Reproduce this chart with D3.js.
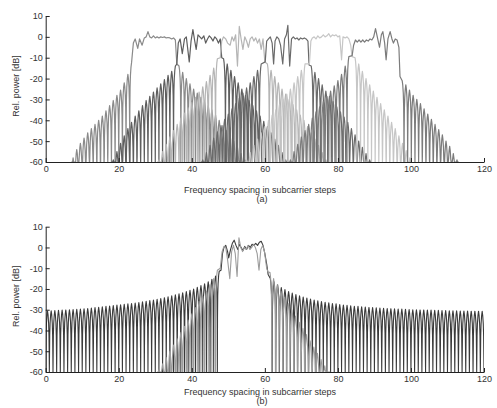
<!DOCTYPE html>
<html>
<head>
<meta charset="utf-8">
<script src="https://cdn.jsdelivr.net/npm/d3@7"></script>
<style>
body { margin: 0; background: #fff; }
text { font-family: "Liberation Sans", Arial, sans-serif; fill: #333; }
</style>
</head>
<body>
<div id="viz"></div>
<script>
// ---- data ----
var xTicks = [0, 20, 40, 60, 80, 100, 120];
var yTicks = [10, 0, -10, -20, -30, -40, -50, -60];

// panel (a): six sub-bands. sidelobe arrays: first null position, then peak levels (dB), one per subcarrier step
var a1Left = { start: 7, peaks: [-58, -54, -51, -48.5, -46, -44, -42, -40, -38, -35.5, -33, -30.5, -28, -25.5, -22, -18, -12.5] };
var a1Pass = [[24, -3], [24.5, -1], [25.2, -5.5], [25.7, -1], [26.4, -4], [27, -0.5], [27.5, 0], [28, 2.5], [28.5, 0], [29, -0.5], [29.5, 0.5], [30, -0.5], [30.5, 0], [31, -0.5], [31.5, 0], [32, -0.3], [32.5, 0], [33, -0.5], [33.5, -0.3], [34, -0.5], [34.5, -1], [35, -0.5], [35.5, -1.5], [35.9, -13]];
var a1Right = { start: 36, peaks: [-14, -17, -20, -22.5, -25, -27, -29, -31, -33, -35, -37.5, -40, -42.5, -45, -47.5, -50, -53, -56, -59] };

var a2Left = { start: 18, peaks: [-59, -55, -51, -47.5, -44, -41, -38, -35.5, -33, -30.5, -28.5, -26.5, -24.5, -22.5, -20.5, -18.5, -16.5, -14] };
var a2Pass = [[35.9, -13], [36.3, -3], [36.8, -1], [37.4, -8], [38, -1], [38.5, 0], [39.3, -12], [39.8, -2], [40.3, 3.5], [40.8, -2], [41.2, -6], [41.7, 1], [42.2, 0], [42.7, -1], [43.3, 0.5], [43.8, -3], [44.3, -1], [44.8, 0.5], [45.3, -0.5], [45.8, -2], [46.3, 0], [46.8, -1], [47.3, -3], [47.8, -1], [48.2, -10]];
var a2Right = { start: 48.2, peaks: [-10.5, -13, -16, -19, -22, -25, -28, -30.5, -33, -35.5, -38, -40.5, -43, -46, -49, -52, -55.5, -59] };

var a3Left = { start: 30.5, peaks: [-59, -55, -51.5, -48, -45, -42, -39, -36.5, -34, -31.5, -29, -26.5, -24, -21.5, -18.5, -15, -10.5] };
var a3Pass = [[47.8, -10], [48.2, -2], [48.7, 0], [49.3, -1], [49.8, -3], [50.5, -4], [51, 0], [51.5, -2], [52, 1], [52.5, -14], [53, 5], [53.5, -1], [54, -6], [54.5, 0], [55, -2], [55.5, -5], [56, -1], [56.5, 0], [57, -2], [57.5, -0.5], [58, -3], [58.5, -1], [59, -6], [59.5, -1], [60, -12]];
var a3Right = { start: 60.2, peaks: [-13, -16, -19, -22, -25, -27.5, -30, -32.5, -35, -37.5, -40, -43, -46, -49, -52, -55.5, -59] };

var a4Left = { start: 42.5, peaks: [-59, -55.5, -52, -48.5, -45.5, -42.5, -39.5, -37, -34.5, -32, -29.5, -27, -24.5, -22, -19, -16, -13] };
var a4Pass = [[60.1, -12], [60.5, -2], [61, -1], [61.5, 0], [62, -3], [62.4, -13], [62.8, -2], [63.3, 0], [63.8, -1], [64.3, -4], [64.9, -13], [65.4, -1], [65.9, 1], [66.3, 5.5], [66.8, -14], [67.3, -1], [67.8, 0], [68.3, -1], [68.8, -0.5], [69.3, -1.5], [69.8, -0.5], [70.3, -1], [70.8, -0.5], [71.3, -1], [71.8, -2], [72.1, -13.5]];
var a4Right = { start: 72.2, peaks: [-14, -17, -20, -23, -26, -28.5, -31, -33.5, -36, -38.5, -41, -44, -47, -50, -53, -56, -59] };

var a5Left = { start: 54.5, peaks: [-59, -55.5, -52, -49, -46, -43, -40, -37.5, -35, -32.5, -30, -27.5, -25, -22, -19, -16, -13] };
var a5Pass = [[72.2, -13], [72.6, -2], [73, -0.5], [73.5, 0], [74, -1], [74.5, 0.5], [75, -0.5], [75.5, 0], [76, 1], [76.5, 0], [77, 0.5], [77.5, 1.5], [78, 0], [78.5, 1], [79, 0.5], [79.5, 1], [80, 0], [80.5, 0.5], [81, -11], [81.4, 0], [82, -0.5], [82.5, 0], [83, -1], [83.5, -4], [83.9, -9.5]];
var a5Right = { start: 84.2, peaks: [-10, -13, -16.5, -20, -23, -26, -29, -32, -35, -38, -41, -44, -47.5, -51, -54.5, -58] };

var a6Left = { start: 66.5, peaks: [-59, -55, -51.5, -48, -45, -42, -39, -36, -33.5, -31, -28.5, -26, -23.5, -21, -18, -14, -9.5] };
var a6Pass = [[83.9, -9], [84.3, -4], [84.8, -1.5], [85.3, -2.5], [85.8, -1.5], [86.3, -2.5], [86.8, -1.5], [87.3, -2.5], [87.8, -1.5], [88.3, -2], [88.8, -1], [89.3, -1.5], [89.8, 0], [90.3, 4], [90.9, -1], [91.4, -5], [91.9, 1], [92.3, 2.5], [92.8, -3], [93.2, -11], [93.7, -1], [94.3, 2.5], [94.8, -1], [95.2, -3], [95.7, -1], [96.2, -1.5], [96.7, -5], [97, -19]];
var a6Right = { start: 97.1, peaks: [-21, -23, -25.5, -28, -30, -32, -34.5, -37, -39.5, -42, -44.5, -47, -50, -52.5, -56, -59] };

// panel (b): one sub-band, unfiltered (dark) and filtered (light)
var bDarkLeft = { start: 0, peaks: [
  -30.6, -30.5, -30.4, -30.3, -30.2, -30.1, -30, -29.9, -29.8, -29.7,
  -29.6, -29.4, -29.2, -29, -28.8, -28.6, -28.4, -28.2, -28, -27.8,
  -27.6, -27.4, -27.2, -27, -26.8, -26.5, -26.2, -25.9, -25.6, -25.3,
  -25, -24.6, -24.2, -23.8, -23.3, -22.8, -22.3, -21.8, -21.2, -20.6,
  -20, -19.2, -18.4, -17.5, -16.5, -15.3, -13.8, -11.5] };
var bDarkPass = [[48, -11], [48.4, -3], [48.8, 0], [49.3, 1], [49.8, -2], [50.1, -5], [50.6, -1], [51.1, 2], [51.6, 3.5], [52.1, 1], [52.6, -1], [53, 1.5], [53.5, 0], [54, -1.5], [54.5, 0.5], [55, -1], [55.5, 1], [56, 0], [56.5, 1.5], [57, 1], [57.5, 2], [58, 1], [58.5, 2.5], [59, 3], [59.5, 1], [60, -3], [60.5, -8], [60.9, -13]];
var bDarkRight = { start: 61, peaks: [
  -15, -16.5, -18, -19.3, -20.3, -21.2, -22, -22.7, -23.3, -23.9,
  -24.4, -24.9, -25.3, -25.7, -26.1, -26.4, -26.7, -27, -27.2, -27.5,
  -27.7, -27.9, -28.1, -28.3, -28.4, -28.6, -28.7, -28.9, -29, -29.1,
  -29.2, -29.3, -29.4, -29.5, -29.6, -29.7, -29.7, -29.8, -29.9, -30,
  -30, -30.1, -30.1, -30.2, -30.2, -30.3, -30.3, -30.4, -30.4, -30.5,
  -30.5, -30.5, -30.6, -30.6, -30.6, -30.7, -30.7, -30.7, -30.8] };

var bLightLeft = { start: 30.5, peaks: [-59, -56, -53, -50, -47, -44, -41, -38, -35, -32, -29, -26, -23.5, -21, -18, -15, -11] };
var bLightPass = [[47.8, -10], [48.3, -2], [48.8, 0.5], [49.3, 0], [49.8, -6], [50.4, -15], [50.9, -2], [51.4, 1], [51.9, -3], [52.4, -14], [52.9, 4.7], [53.4, 0], [53.9, -2], [54.4, 0], [54.9, -1], [55.4, 1], [55.9, -1], [56.4, 0], [56.9, 1.5], [57.4, 0], [57.9, -3], [58.4, -11], [58.9, -1], [59.4, 1], [59.9, -2], [60.5, -10], [60.9, -12]];
var bLightRight = { start: 60.9, peaks: [-12, -15, -18, -21, -24, -27, -30, -33, -36, -39, -42, -45, -48, -51, -54, -57, -60] };

// ---- drawing ----
var W = 497, H = 408;
var svg = d3.select("#viz").append("svg")
    .attr("width", W)
    .attr("height", H);
svg.append("rect").attr("width", W).attr("height", H).attr("fill", "#fff");

// shape of one sidelobe between two nulls (relative offset from the peak)
var lobeT = [0, 0.04, 0.1, 0.2, 0.35, 0.5, 0.65, 0.8, 0.9, 0.96, 1];
var lobeDrop = [80, 22, 12, 6, 2, 0, 2, 6, 12, 22, 80];

function lobePoints(side, trim) {
    var pts = [];
    side.peaks.forEach(function(p, i) {
        lobeT.forEach(function(t, j) {
            if (trim == "end" && i == side.peaks.length - 1 && j > 5) return;
            if (trim == "start" && i == 0 && j < 5) return;
            pts.push([side.start + i + t, p - lobeDrop[j]]);
        });
    });
    return pts;
}

function trace(left, pass, right) {
    return lobePoints(left, "end").concat(pass, lobePoints(right, "start"));
}

// labelY / letterY: baselines below the x axis
function panel(top, bottom, id, series, letter, labelY, letterY) {
    var x = d3.scaleLinear().domain([0, 120]).range([45.7, 484]);
    var y = d3.scaleLinear().domain([-60, 10]).range([bottom, top]).clamp(true);
    var g = svg.append("g");

    g.append("clipPath").attr("id", id)
        .append("rect")
        .attr("x", x(0)).attr("y", top - 5)
        .attr("width", x(120) - x(0)).attr("height", bottom - top + 5);

    var line = d3.line()
        .x(function(d) { return x(d[0]); })
        .y(function(d) { return y(d[1]); });

    g.append("g").attr("clip-path", "url(#" + id + ")")
        .selectAll("path")
        .data(series)
        .enter()
        .append("path")
        .attr("d", function(d) { return line(d.pts); })
        .attr("fill", "none")
        .attr("stroke", function(d) { return d.color; })
        .attr("stroke-width", function(d) { return d.w; })
        .attr("stroke-linejoin", "round");

    var ax = g.append("g")
        .attr("transform", "translate(0," + bottom + ")")
        .call(d3.axisBottom(x).tickValues(xTicks).tickFormat(function(d) { return String(d); })
            .tickSizeInner(-4).tickSizeOuter(0).tickPadding(3.5));
    var ay = g.append("g")
        .attr("transform", "translate(" + x(0) + ",0)")
        .call(d3.axisLeft(y).tickValues(yTicks).tickFormat(function(d) { return String(d); })
            .tickSizeInner(-4).tickSizeOuter(0).tickPadding(3));
    [ax, ay].forEach(function(a) {
        a.selectAll("path,line").attr("stroke", "#222").attr("stroke-width", 1);
        a.selectAll("text").attr("font-size", 9).attr("fill", "#333")
            .attr("font-family", "'Liberation Sans', Arial, sans-serif");
    });

    g.append("text")
        .attr("transform", "translate(16," + ((top + bottom) / 2 - 3) + ") rotate(-90)")
        .attr("text-anchor", "middle")
        .attr("dy", "0.35em")
        .attr("font-size", 9)
        .text("Rel. power [dB]");
    g.append("text")
        .attr("x", 260).attr("y", labelY)
        .attr("text-anchor", "middle")
        .attr("font-size", 9)
        .text("Frequency spacing in subcarrier steps");
    g.append("text")
        .attr("x", 262).attr("y", letterY)
        .attr("text-anchor", "middle")
        .attr("font-size", 9)
        .text(letter);
}

panel(16, 162, "clipA", [
    { pts: trace(a1Left, a1Pass, a1Right), color: "#8a8a8a", w: 1.2 },
    { pts: trace(a2Left, a2Pass, a2Right), color: "#5e5e5e", w: 1.2 },
    { pts: trace(a3Left, a3Pass, a3Right), color: "#b5b5b5", w: 1.2 },
    { pts: trace(a4Left, a4Pass, a4Right), color: "#6a6a6a", w: 1.2 },
    { pts: trace(a5Left, a5Pass, a5Right), color: "#c6c6c6", w: 1.2 },
    { pts: trace(a6Left, a6Pass, a6Right), color: "#7c7c7c", w: 1.2 }
], "(a)", 193, 202);

panel(226.7, 372, "clipB", [
    { pts: trace(bDarkLeft, bDarkPass, bDarkRight), color: "#3a3a3a", w: 1.1 },
    { pts: trace(bLightLeft, bLightPass, bLightRight), color: "#9c9c9c", w: 1.1 }
], "(b)", 395, 404);
</script>
</body>
</html>
